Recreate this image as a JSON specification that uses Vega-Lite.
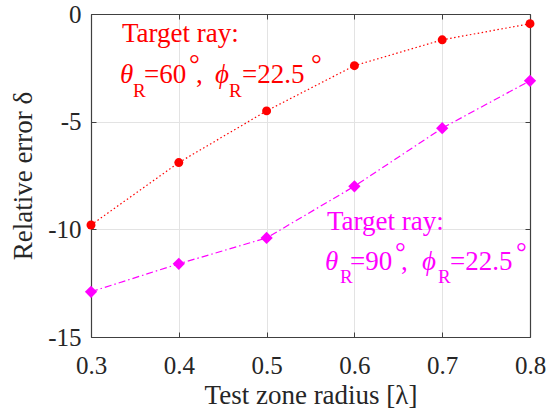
{
  "$schema": "https://vega.github.io/schema/vega-lite/v6.json",
  "width": 439,
  "height": 323,
  "autosize": "none",
  "padding": {"left": 91, "top": 14, "right": 23, "bottom": 81},
  "background": "white",
  "config": {
    "font": "Liberation Serif",
    "view": {"stroke": null},
    "text": {"font": "Liberation Serif"},
    "axis": {
      "labelFont": "Liberation Serif",
      "titleFont": "Liberation Serif",
      "labelFontSize": 25,
      "titleFontSize": 27,
      "titleFontWeight": "normal",
      "labelColor": "#262626",
      "titleColor": "#262626",
      "domainColor": "#404040",
      "domainWidth": 1.2,
      "tickColor": "#404040",
      "tickSize": -5,
      "labelFlush": false,
      "gridColor": "#e3e3e3",
      "gridWidth": 1
    }
  },
  "datasets": {
    "series": [
      {"r": 0.3, "delta": -9.8, "series": "theta60"},
      {"r": 0.4, "delta": -6.9, "series": "theta60"},
      {"r": 0.5, "delta": -4.5, "series": "theta60"},
      {"r": 0.6, "delta": -2.4, "series": "theta60"},
      {"r": 0.7, "delta": -1.2, "series": "theta60"},
      {"r": 0.8, "delta": -0.45, "series": "theta60"},
      {"r": 0.3, "delta": -12.9, "series": "theta90"},
      {"r": 0.4, "delta": -11.6, "series": "theta90"},
      {"r": 0.5, "delta": -10.4, "series": "theta90"},
      {"r": 0.6, "delta": -8.0, "series": "theta90"},
      {"r": 0.7, "delta": -5.3, "series": "theta90"},
      {"r": 0.8, "delta": -3.1, "series": "theta90"}
    ],
    "mainText": [
      {"r": 0.3353, "delta": -1.30, "text": "Target ray:", "series": "theta60"},
      {"r": 0.3604, "delta": -3.204, "text": "=60", "series": "theta60"},
      {"r": 0.4196, "delta": -3.204, "text": ",", "series": "theta60"},
      {"r": 0.4720, "delta": -3.204, "text": "=22.5", "series": "theta60"},
      {"r": 0.5688, "delta": -10.031, "text": "Target ray:", "series": "theta90"},
      {"r": 0.5950, "delta": -11.889, "text": "=90", "series": "theta90"},
      {"r": 0.6530, "delta": -11.889, "text": ",", "series": "theta90"},
      {"r": 0.7089, "delta": -11.889, "text": "=22.5", "series": "theta90"}
    ],
    "italicText": [
      {"r": 0.3330, "delta": -3.204, "text": "θ", "series": "theta60"},
      {"r": 0.4412, "delta": -3.204, "text": "ϕ", "series": "theta60"},
      {"r": 0.5665, "delta": -11.889, "text": "θ", "series": "theta90"},
      {"r": 0.6770, "delta": -11.889, "text": "ϕ", "series": "theta90"}
    ],
    "subText": [
      {"r": 0.3478, "delta": -3.855, "text": "R", "series": "theta60"},
      {"r": 0.4572, "delta": -3.855, "text": "R", "series": "theta60"},
      {"r": 0.5836, "delta": -12.492, "text": "R", "series": "theta90"},
      {"r": 0.6952, "delta": -12.492, "text": "R", "series": "theta90"}
    ],
    "degText": [
      {"r": 0.4116, "delta": -2.74, "text": "°", "series": "theta60"},
      {"r": 0.5506, "delta": -2.74, "text": "°", "series": "theta60"},
      {"r": 0.6462, "delta": -11.47, "text": "°", "series": "theta90"},
      {"r": 0.7840, "delta": -11.47, "text": "°", "series": "theta90"}
    ]
  },
  "encoding": {
    "x": {
      "field": "r",
      "type": "quantitative",
      "scale": {"domain": [0.3, 0.8], "nice": false, "zero": false}
    },
    "y": {
      "field": "delta",
      "type": "quantitative",
      "scale": {"domain": [-15, 0], "nice": false, "zero": false}
    },
    "color": {
      "field": "series",
      "type": "nominal",
      "scale": {"domain": ["theta60", "theta90"], "range": ["#ff0000", "#ff00ff"]},
      "legend": null
    }
  },
  "layer": [
    {
      "data": {"name": "series"},
      "mark": {"type": "line", "strokeWidth": 1.2},
      "encoding": {
        "x": {
          "field": "r",
          "type": "quantitative",
          "axis": {
            "orient": "bottom",
            "values": [0.3, 0.4, 0.5, 0.6, 0.7, 0.8],
            "format": ".1f",
            "title": "Test zone radius [λ]",
            "labelFont": "Liberation Serif",
            "titleFont": "Liberation Serif",
            "labelFlush": false,
            "labelPadding": 21,
            "titlePadding": 4,
            "grid": true
          }
        },
        "y": {
          "field": "delta",
          "type": "quantitative",
          "axis": {
            "orient": "left",
            "values": [0, -5, -10, -15],
            "labelExpr": "toString(datum.value)",
            "title": "Relative error δ",
            "labelFont": "Liberation Serif",
            "titleFont": "Liberation Serif",
            "labelFlush": false,
            "labelPadding": 15,
            "titlePadding": 10,
            "grid": true
          }
        },
        "strokeDash": {
          "field": "series",
          "type": "nominal",
          "scale": {"domain": ["theta60", "theta90"], "range": [[1.5, 2.5], [7, 3, 1.5, 3]]},
          "legend": null
        }
      }
    },
    {
      "data": {"name": "series"},
      "mark": {"type": "point", "filled": true, "opacity": 1},
      "encoding": {
        "x": {
          "field": "r",
          "type": "quantitative",
          "axis": {
            "orient": "top",
            "values": [0.3, 0.4, 0.5, 0.6, 0.7, 0.8],
            "labels": false,
            "title": null,
            "grid": false
          }
        },
        "y": {
          "field": "delta",
          "type": "quantitative",
          "axis": {
            "orient": "right",
            "values": [0, -5, -10, -15],
            "labels": false,
            "title": null,
            "grid": false
          }
        },
        "shape": {
          "field": "series",
          "type": "nominal",
          "scale": {"domain": ["theta60", "theta90"], "range": ["circle", "diamond"]},
          "legend": null
        },
        "size": {
          "field": "series",
          "type": "nominal",
          "scale": {"domain": ["theta60", "theta90"], "range": [80, 150]},
          "legend": null
        }
      }
    },
    {
      "data": {"name": "mainText"},
      "mark": {"type": "text", "align": "left", "baseline": "alphabetic", "fontSize": 27, "font": "Liberation Serif"},
      "encoding": {
        "x": {"field": "r", "type": "quantitative", "axis": null},
        "y": {"field": "delta", "type": "quantitative", "axis": null},
        "text": {"field": "text"}
      }
    },
    {
      "data": {"name": "italicText"},
      "mark": {"type": "text", "align": "left", "baseline": "alphabetic", "fontSize": 27, "fontStyle": "italic", "font": "Liberation Serif"},
      "encoding": {
        "x": {"field": "r", "type": "quantitative", "axis": null},
        "y": {"field": "delta", "type": "quantitative", "axis": null},
        "text": {"field": "text"}
      }
    },
    {
      "data": {"name": "subText"},
      "mark": {"type": "text", "align": "left", "baseline": "alphabetic", "fontSize": 19, "font": "Liberation Serif"},
      "encoding": {
        "x": {"field": "r", "type": "quantitative", "axis": null},
        "y": {"field": "delta", "type": "quantitative", "axis": null},
        "text": {"field": "text"}
      }
    },
    {
      "data": {"name": "degText"},
      "mark": {"type": "text", "align": "left", "baseline": "alphabetic", "fontSize": 27, "font": "Liberation Serif"},
      "encoding": {
        "x": {"field": "r", "type": "quantitative", "axis": null},
        "y": {"field": "delta", "type": "quantitative", "axis": null},
        "text": {"field": "text"}
      }
    }
  ],
  "resolve": {"axis": {"x": "independent", "y": "independent"}}
}
